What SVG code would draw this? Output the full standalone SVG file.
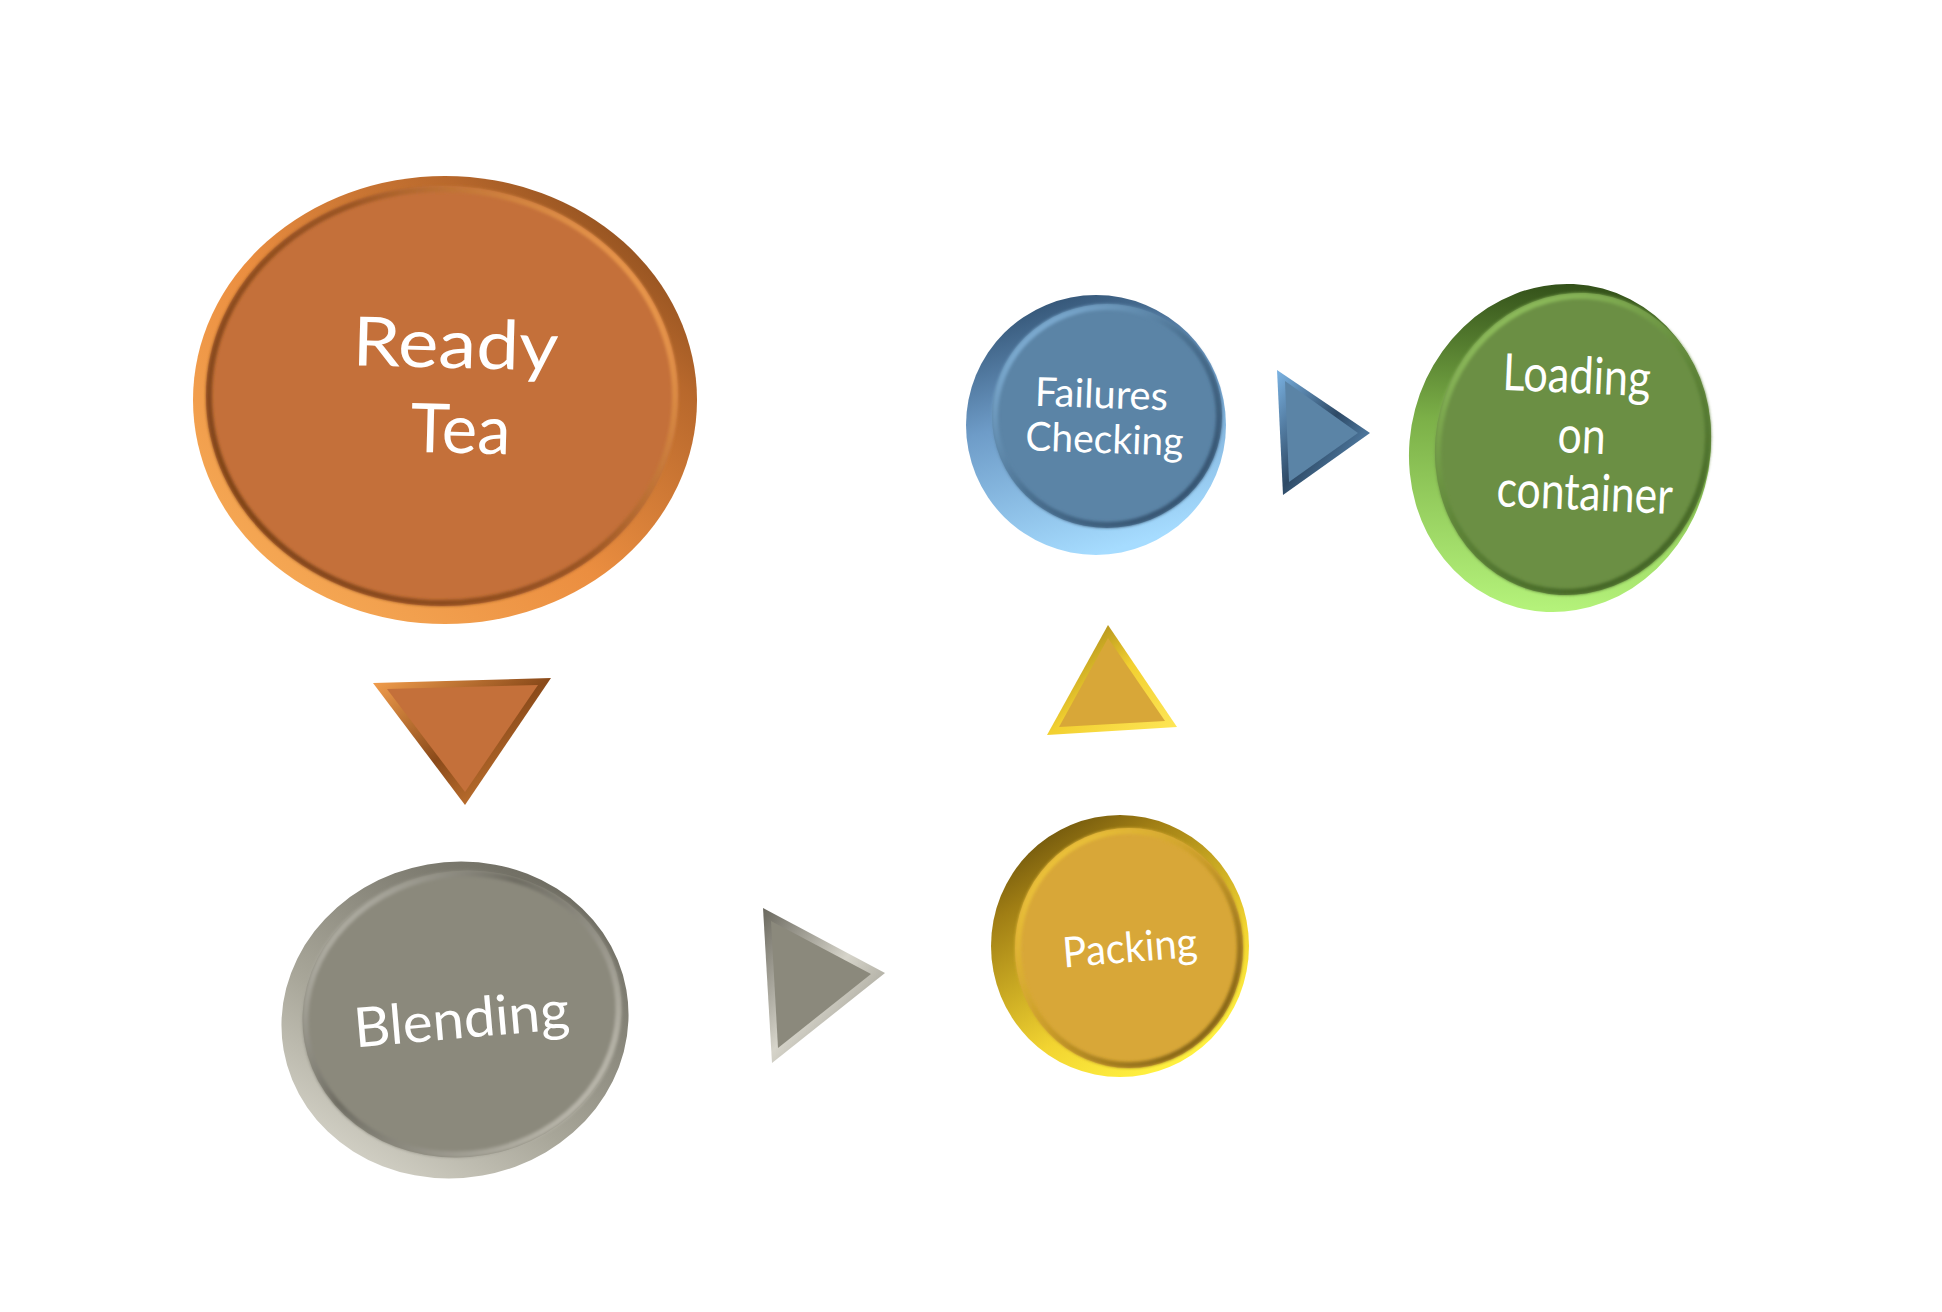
<svg xmlns="http://www.w3.org/2000/svg" width="1942" height="1312" viewBox="0 0 1942 1312">
<style>
  .lbl { font-family: Lato, "Open Sans", "Liberation Sans", sans-serif; fill: #ffffff; text-anchor: middle; }
  .bev { fill: none; filter: url(#soft); }
</style>
<defs>
  <filter id="soft" x="-10%" y="-10%" width="120%" height="120%"><feGaussianBlur stdDeviation="1.6"/></filter>
  <!-- orange -->
  <linearGradient id="oSide" x1="0" y1="1" x2="1" y2="0">
    <stop offset="0" stop-color="#F9B25C"/><stop offset="0.45" stop-color="#EB8E40"/><stop offset="0.75" stop-color="#B8682C"/><stop offset="1" stop-color="#6E3C14"/>
  </linearGradient>
  <linearGradient id="oBev" x1="0" y1="0.8" x2="1" y2="0.2">
    <stop offset="0" stop-color="#7E4318"/><stop offset="0.55" stop-color="#9A5422"/><stop offset="1" stop-color="#F5A152"/>
  </linearGradient>
  <!-- grey -->
  <linearGradient id="gSide" x1="0" y1="1" x2="1" y2="0">
    <stop offset="0" stop-color="#E6E4DA"/><stop offset="0.4" stop-color="#A8A699"/><stop offset="1" stop-color="#5E5C52"/>
  </linearGradient>
  <linearGradient id="gBev" x1="0" y1="0" x2="1" y2="1">
    <stop offset="0" stop-color="#CFCDC2"/><stop offset="0.4" stop-color="#6E6C62"/><stop offset="1" stop-color="#CFCCC0"/>
  </linearGradient>
  <!-- yellow -->
  <linearGradient id="ySide" x1="0" y1="0" x2="0.6" y2="1">
    <stop offset="0" stop-color="#4E3A08"/><stop offset="0.3" stop-color="#A07E14"/><stop offset="0.75" stop-color="#F2D431"/><stop offset="1" stop-color="#FFF040"/>
  </linearGradient>
  <linearGradient id="yBev" x1="0" y1="0" x2="1" y2="1">
    <stop offset="0" stop-color="#F8D040"/><stop offset="0.5" stop-color="#C89A28"/><stop offset="1" stop-color="#6E5210"/>
  </linearGradient>
  <!-- blue -->
  <linearGradient id="bSide" x1="0.2" y1="0" x2="0.5" y2="1">
    <stop offset="0" stop-color="#2E4E6E"/><stop offset="0.45" stop-color="#6E9CC8"/><stop offset="1" stop-color="#A6DCFF"/>
  </linearGradient>
  <linearGradient id="bBev" x1="0" y1="0" x2="1" y2="1">
    <stop offset="0" stop-color="#8EC0E8"/><stop offset="0.5" stop-color="#4A7090"/><stop offset="1" stop-color="#2E4A66"/>
  </linearGradient>
  <!-- green -->
  <linearGradient id="nSide" x1="0.3" y1="0" x2="0.5" y2="1">
    <stop offset="0" stop-color="#2E4A16"/><stop offset="0.45" stop-color="#7CB048"/><stop offset="1" stop-color="#B4F27A"/>
  </linearGradient>
  <linearGradient id="nBev" x1="0" y1="0" x2="1" y2="1">
    <stop offset="0" stop-color="#9ED068"/><stop offset="0.5" stop-color="#5E8438"/><stop offset="1" stop-color="#3A5A1E"/>
  </linearGradient>
  <!-- triangle gradients -->
  <linearGradient id="toSide" x1="0" y1="0" x2="1" y2="1">
    <stop offset="0" stop-color="#F5A04E"/><stop offset="0.5" stop-color="#8A4A1A"/><stop offset="1" stop-color="#E08A3C"/>
  </linearGradient>
  <linearGradient id="tgSide" x1="0" y1="0" x2="1" y2="1">
    <stop offset="0" stop-color="#6A685E"/><stop offset="0.5" stop-color="#D6D4CA"/><stop offset="1" stop-color="#8A887C"/>
  </linearGradient>
  <linearGradient id="tySide" x1="0" y1="0" x2="1" y2="1">
    <stop offset="0" stop-color="#8A6A10"/><stop offset="0.5" stop-color="#F2D030"/><stop offset="1" stop-color="#FFE85A"/>
  </linearGradient>
  <linearGradient id="tbSide" x1="0" y1="0" x2="1" y2="1">
    <stop offset="0" stop-color="#7CB4E4"/><stop offset="0.5" stop-color="#2E4A66"/><stop offset="1" stop-color="#6CA4D4"/>
  </linearGradient>
</defs>

<rect width="1942" height="1312" fill="#ffffff"/>

<g id="connectors">
  <g id="arrow-readytea-blending">
    <polygon points="373,683 551,678 465,805" fill="url(#toSide)"/>
    <polygon points="387,689 538,685 465,792" fill="#C4703A"/>
  </g>
  <g id="arrow-blending-packing">
    <polygon points="763,908 885,973 772,1063" fill="url(#tgSide)"/>
    <polygon points="771,921 871,974 778,1048" fill="#8B897C"/>
  </g>
  <g id="arrow-packing-failures">
    <polygon points="1108,625 1047,735 1177,727" fill="url(#tySide)"/>
    <polygon points="1108,638 1059,727 1165,721" fill="#D8A738"/>
  </g>
  <g id="arrow-failures-loading">
    <polygon points="1277,370 1370,433 1283,495" fill="url(#tbSide)"/>
    <polygon points="1285,381 1358,433 1289,482" fill="#5B84A6"/>
  </g>
</g>

<g id="node-ready-tea">
  <ellipse cx="445" cy="400" rx="252" ry="224" fill="url(#oSide)"/>
  <ellipse cx="442" cy="396" rx="236" ry="210" fill="#C4703A"/>
  <ellipse class="bev" cx="442" cy="396" rx="233" ry="207" stroke="url(#oBev)" stroke-width="6"/>
  <text class="lbl" font-size="68" transform="rotate(1.5 455 368)" x="455" y="368" textLength="206" lengthAdjust="spacingAndGlyphs">Ready</text>
  <text class="lbl" font-size="68" transform="rotate(1.5 460 453)" x="460" y="453" textLength="100" lengthAdjust="spacingAndGlyphs">Tea</text>
</g>

<g id="node-blending">
  <ellipse cx="455" cy="1020" rx="174" ry="158" transform="rotate(-10 455 1020)" fill="url(#gSide)"/>
  <ellipse cx="462" cy="1014" rx="160" ry="143" transform="rotate(-10 462 1014)" fill="#8B897C"/>
  <ellipse class="bev" cx="462" cy="1014" rx="157" ry="140" transform="rotate(-10 462 1014)" stroke="url(#gBev)" stroke-width="6"/>
  <text class="lbl" font-size="55" transform="rotate(-5 463 1038)" x="463" y="1038" textLength="216" lengthAdjust="spacingAndGlyphs">Blending</text>
</g>

<g id="node-packing">
  <ellipse cx="1120" cy="946" rx="129" ry="131" fill="url(#ySide)"/>
  <ellipse cx="1129" cy="948" rx="114" ry="120" fill="#D8A738"/>
  <ellipse class="bev" cx="1129" cy="948" rx="111" ry="117" stroke="url(#yBev)" stroke-width="6"/>
  <text class="lbl" font-size="42" transform="rotate(-4.7 1131 962)" x="1131" y="962" textLength="135" lengthAdjust="spacingAndGlyphs">Packing</text>
</g>

<g id="node-failures-checking">
  <ellipse cx="1096" cy="425" rx="130" ry="130" fill="url(#bSide)"/>
  <ellipse cx="1107" cy="416" rx="115" ry="112" fill="#5B84A6"/>
  <ellipse class="bev" cx="1107" cy="416" rx="112" ry="109" stroke="url(#bBev)" stroke-width="6"/>
  <text class="lbl" font-size="40" transform="rotate(2 1101 408)" x="1101" y="408" textLength="133" lengthAdjust="spacingAndGlyphs">Failures</text>
  <text class="lbl" font-size="40" transform="rotate(2 1104 453)" x="1104" y="453" textLength="158" lengthAdjust="spacingAndGlyphs">Checking</text>
</g>

<g id="node-loading-on-container">
  <ellipse cx="1560" cy="448" rx="150" ry="165" transform="rotate(15 1560 448)" fill="url(#nSide)"/>
  <ellipse cx="1573" cy="444" rx="137" ry="152" transform="rotate(15 1573 444)" fill="#6B8F44"/>
  <ellipse class="bev" cx="1573" cy="444" rx="134" ry="149" transform="rotate(15 1573 444)" stroke="url(#nBev)" stroke-width="6"/>
  <text class="lbl" font-size="51" transform="rotate(2.5 1576 393)" x="1576" y="393" textLength="148" lengthAdjust="spacingAndGlyphs">Loading</text>
  <text class="lbl" font-size="51" transform="rotate(2.5 1581 453)" x="1581" y="453" textLength="48" lengthAdjust="spacingAndGlyphs">on</text>
  <text class="lbl" font-size="51" transform="rotate(2.5 1584 510)" x="1584" y="510" textLength="176" lengthAdjust="spacingAndGlyphs">container</text>
</g>
</svg>
